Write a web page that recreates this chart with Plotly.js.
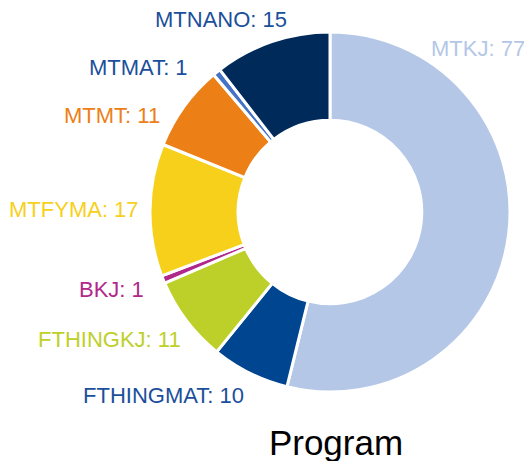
<!DOCTYPE html>
<html>
<head>
<meta charset="utf-8">
<script src="https://cdn.plot.ly/plotly-3.0.1.min.js"></script>
<style>html,body{margin:0;padding:0;background:#fff;}#chart{width:524px;height:461px;}</style>
</head>
<body>
<div id="chart"></div>
<script>
const programs = ["MTKJ", "FTHINGMAT", "FTHINGKJ", "BKJ", "MTFYMA", "MTMT", "MTMAT", "MTNANO"];
const counts = [77, 10, 11, 1, 17, 11, 1, 15];
const sliceColors = ["#b4c7e7", "#00458f", "#bdd02a", "#b0288a", "#f6d01a", "#ec8017", "#4472c4", "#002a5a"];
const labelColors = ["#b4c7e7", "#1b4f9b", "#bdd02a", "#b0288a", "#f6d01a", "#ec8017", "#1b4f9b", "#1b4f9b"];
const chartTitle = "Program";

const W = 524, H = 461;
const FONT = "Liberation Sans, Arial, sans-serif";
const dom = { x: [150 / W, 510 / W], y: [69 / H, 429 / H] };
// label layout: default radius (px) at the slice mid-angle, plus a few manual nudges
const labelRadiusPx = 189;
const labelNudge = {
  MTKJ: { angle: 33.5, r: 179 },
  MTNANO: { angle: 347, r: 183 },
  MTMAT: { angle: 313, r: 191 },
  MTMT: { angle: 296, r: 187 },
  BKJ: { angle: 251, r: 195 },
  FTHINGKJ: { angle: 232.5, r: 185 }
};

const trace = {
  type: "pie",
  labels: programs,
  values: counts,
  sort: false,
  direction: "clockwise",
  rotation: 0,
  hole: 0.51,
  marker: { colors: sliceColors, line: { color: "#ffffff", width: 3 } },
  textinfo: "none",
  domain: dom,
  showlegend: false,
  hoverinfo: "label+value"
};

// label annotations from the data (slice mid-angles)
const total = counts.reduce((a, b) => a + b, 0);
const cxPx = (dom.x[0] + dom.x[1]) / 2 * W;
const cyPx = (1 - (dom.y[0] + dom.y[1]) / 2) * H;
let cum = 0;
const annotations = programs.map((p, i) => {
  const mid = (cum + counts[i] / 2) / total * 360;
  cum += counts[i];
  const nudge = labelNudge[p] || {};
  const angDeg = nudge.angle !== undefined ? nudge.angle : mid;
  const r = nudge.r !== undefined ? nudge.r : labelRadiusPx;
  const ang = angDeg * Math.PI / 180;
  const s = Math.sin(ang), c = Math.cos(ang);
  const px = cxPx + r * s;
  const py = cyPx - r * c;
  return {
    x: px / W, y: 1 - py / H, xref: "paper", yref: "paper",
    text: p + ": " + counts[i],
    showarrow: false,
    xanchor: s < 0 ? "right" : "left",
    yanchor: Math.abs(c) < 0.2 ? "middle" : (c < 0 ? "top" : "bottom"),
    font: { family: FONT, size: 22, color: labelColors[i] }
  };
});

const layout = {
  width: W, height: H,
  margin: { l: 0, r: 0, t: 0, b: 0 },
  paper_bgcolor: "#ffffff",
  font: { family: FONT },
  annotations: annotations,
  title: {
    text: chartTitle,
    font: { size: 35, color: "#000000", family: FONT },
    x: 336 / W, xanchor: "center",
    y: 0.014, yanchor: "bottom"
  }
};

Plotly.newPlot("chart", [trace], layout, { displayModeBar: false, staticPlot: true });
</script>
</body>
</html>
